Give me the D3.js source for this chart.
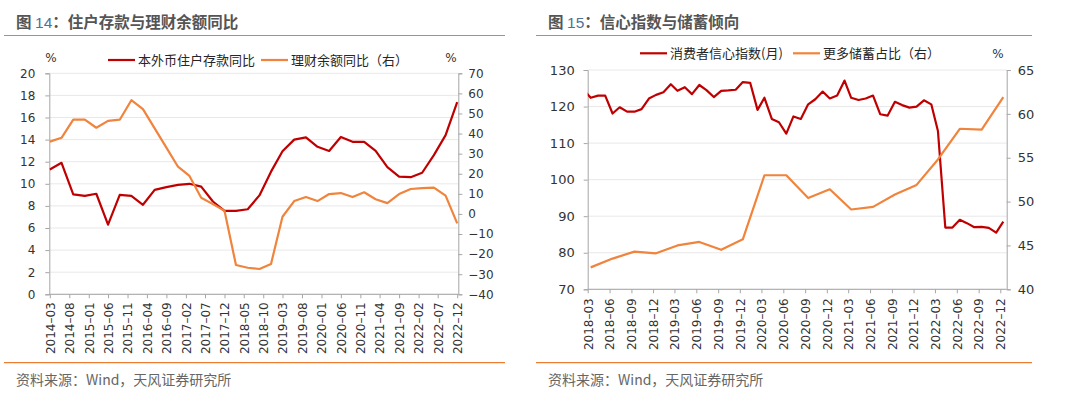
<!DOCTYPE html>
<html>
<head>
<meta charset="utf-8">
<script src="https://cdn.jsdelivr.net/npm/d3@7"></script>
<style>
  body { margin: 0; background: #fff; }
  svg { display: block; }
</style>
</head>
<body>
<svg id="chart" width="1065" height="399"></svg>
<script>
// ---- 图14 data: quarterly, 2014-03 .. 2022-12 ----
const depositStart = '2014-03';
const depositEnd = '2022-12';
const depositYoY = [11.3, 11.9, 9.05, 8.9, 9.1, 6.3, 9.0, 8.9, 8.1, 9.45, 9.7, 9.9, 10.0, 9.75, 8.4, 7.55,
  7.55, 7.7, 8.95, 11.1, 12.95, 14.0, 14.2, 13.35, 12.97, 14.24, 13.8, 13.8, 12.97, 11.5, 10.65, 10.6,
  11.0, 12.6, 14.4, 17.4];
const wealthYoY = [36.0, 37.9, 46.9, 46.9, 42.9, 46.3, 46.9, 56.6, 52.2, 42.6, 33.0, 23.5, 18.9, 8.1, 4.9, 1.6,
  -25.4, -26.8, -27.4, -24.9, -1.4, 6.4, 8.4, 6.4, 9.9, 10.4, 8.4, 10.8, 7.3, 5.4, 9.9, 12.4,
  12.8, 13.1, 9.1, -4.7];
const depositTicks = ['2014-03', '2014-08', '2015-01', '2015-06', '2015-11', '2016-04', '2016-09', '2017-02',
  '2017-07', '2017-12', '2018-05', '2018-10', '2019-03', '2019-08', '2020-01', '2020-06', '2020-11',
  '2021-04', '2021-09', '2022-02', '2022-07', '2022-12'];
const depositLeftTicks = [0, 2, 4, 6, 8, 10, 12, 14, 16, 18, 20];
const depositRightTicks = [-40, -30, -20, -10, 0, 10, 20, 30, 40, 50, 60, 70];

// ---- 图15 data: confidence monthly 2018-02 .. 2022-12, savings quarterly 2018-03 .. 2022-12 ----
const confStart = '2018-02';
const confEnd = '2022-12';
const confidence = [124.4, 122.4, 123.0, 123.0, 118.1, 119.8, 118.6, 118.6, 119.3, 122.2, 123.2, 123.9,
  126.1, 124.3, 125.3, 123.4, 125.9, 124.5, 122.6, 124.3, 124.4, 124.6, 126.7, 126.5, 119.1, 122.4,
  116.6, 115.7, 112.6, 117.3, 116.6, 120.6, 122.0, 124.1, 122.2, 123.0, 127.1, 122.4, 121.8, 122.2,
  123.0, 117.9, 117.5, 121.3, 120.4, 119.7, 120.0, 121.7, 120.6, 113.3, 86.9, 86.9, 89.0, 88.1,
  87.0, 87.1, 86.8, 85.5, 88.5];
const savingsStart = '2018-03';
const savingsShare = [42.5, 43.5, 44.3, 44.1, 45.0, 45.4, 44.5, 45.7, 53.0, 53.0, 50.4, 51.4, 49.1, 49.4,
  50.8, 51.9, 54.8, 58.3, 58.2, 61.9];
const confTicks = ['2018-03', '2018-06', '2018-09', '2018-12', '2019-03', '2019-06', '2019-09', '2019-12',
  '2020-03', '2020-06', '2020-09', '2020-12', '2021-03', '2021-06', '2021-09', '2021-12', '2022-03',
  '2022-06', '2022-09', '2022-12'];
const confLeftTicks = [70, 80, 90, 100, 110, 120, 130];
const confRightTicks = [40, 45, 50, 55, 60, 65];

const RED = '#c00000';
const ORANGE = '#f0843c';
const numFont = '"DejaVu Sans", sans-serif';
const cjkFont = '"Noto Sans CJK SC", sans-serif';

const parse = d3.timeParse('%Y-%m');
const labelFmt = d3.timeFormat('%Y–%m');
const svg = d3.select('#chart');

function monthly (start, every, n) {
  return d3.range(n).map(i => d3.timeMonth.offset(parse(start), i * every));
}

function header (x, x0, x1, num, title) {
  const t = svg.append('text')
    .attr('x', x).attr('y', 27.5)
    .style('font-family', cjkFont).style('font-size', '15.5px')
    .style('font-weight', 'bold').style('fill', '#555');
  t.append('tspan').text('图 ');
  t.append('tspan').text(num)
    .style('font-family', '"Liberation Sans", sans-serif').style('font-weight', 'normal')
    .style('fill', '#4d7298');
  t.append('tspan').text('：' + title);

  svg.append('line').attr('x1', x0).attr('x2', x1).attr('y1', 35.5).attr('y2', 35.5)
    .attr('stroke', '#ed7d31').attr('stroke-width', 1.2);
  svg.append('line').attr('x1', x0).attr('x2', x1).attr('y1', 362.7).attr('y2', 362.7)
    .attr('stroke', '#ed7d31').attr('stroke-width', 1.2);
  svg.append('text').attr('x', x).attr('y', 385)
    .style('font-family', cjkFont).style('font-size', '14px').style('fill', '#666')
    .text('资料来源：Wind，天风证券研究所');
}

function legend (items, y) {
  items.forEach(it => {
    svg.append('line').attr('x1', it.x).attr('x2', it.x + 27).attr('y1', y).attr('y2', y)
      .attr('stroke', it.color).attr('stroke-width', 2.2);
    svg.append('text').attr('x', it.x + 30).attr('y', y + 4.6)
      .style('font-family', cjkFont).style('font-size', '13px').style('fill', '#262626')
      .text(it.label);
  });
}

function styleAxis (g, fontSize) {
  g.select('.domain').attr('stroke', '#a6a6a6');
  g.selectAll('.tick line').attr('stroke', '#a6a6a6');
  g.selectAll('text').style('font-family', numFont).style('font-size', fontSize).style('fill', '#333');
}

function panel (o) {
  const g = svg.append('g');

  // gridlines
  g.selectAll('.grid').data(o.leftTicks).enter().append('line')
    .attr('x1', o.frame[0]).attr('x2', o.frame[1])
    .attr('y1', d => o.yL(d)).attr('y2', d => o.yL(d))
    .attr('stroke', '#e8e8e8').attr('stroke-width', 1);

  // axes
  const ax = g.append('g').attr('transform', `translate(${o.frame[0]},0)`)
    .call(d3.axisLeft(o.yL).tickValues(o.leftTicks).tickSize(4).tickPadding(o.padL).tickFormat(d3.format('d')));
  styleAxis(ax, o.fsY);
  const ay = g.append('g').attr('transform', `translate(${o.frame[1]},0)`)
    .call(d3.axisRight(o.yR).tickValues(o.rightTicks).tickSize(4).tickPadding(o.padR));
  styleAxis(ay, o.fsY);
  const xb = g.append('g').attr('transform', `translate(0,${o.bottom})`)
    .call(d3.axisBottom(o.xTick).tickValues(o.ticks.map(parse)).tickSize(4).tickFormat(labelFmt));
  xb.select('.domain').attr('d', `M${o.frame[0]},0H${o.frame[1]}`);
  styleAxis(xb, '12px');
  xb.selectAll('text')
    .attr('transform', 'rotate(-90)')
    .attr('x', -o.padX).attr('y', 0).attr('dy', '0.36em')
    .style('text-anchor', 'end');

  // clip for series that start before the plotted range
  const clipId = 'clip' + o.frame[0];
  svg.append('clipPath').attr('id', clipId).append('rect')
    .attr('x', o.frame[0]).attr('y', o.top - 5)
    .attr('width', o.frame[1] - o.frame[0]).attr('height', o.bottom - o.top + 10);

  o.series.forEach(s => {
    const line = d3.line().x(d => o.x(d[0])).y(d => s.y(d[1]));
    g.append('path')
      .datum(d3.zip(s.dates, s.values))
      .attr('d', line)
      .attr('fill', 'none').attr('stroke', s.color).attr('stroke-width', 2.2)
      .attr('stroke-linejoin', 'round')
      .attr('clip-path', `url(#${clipId})`);
  });

  // unit labels
  o.units.forEach(u => {
    svg.append('text').attr('x', u).attr('y', o.unitY).attr('text-anchor', 'middle')
      .style('font-family', numFont).style('font-size', '12px').style('fill', '#333').text('%');
  });
}

// ---- 图14 ----
header(16, 4, 505, '14', '住户存款与理财余额同比');
const depDates = monthly(depositStart, 3, depositYoY.length);
const xDep = d3.scaleTime().domain([parse(depositStart), parse(depositEnd)]).range([49.8, 457.2]);
const yDepL = d3.scaleLinear().domain([0, 20]).range([294.3, 73.3]);
const yDepR = d3.scaleLinear().domain([-40, 70]).range([294.3, 73.3]);
panel({
  frame: [49.3, 458.3], top: 73.3, bottom: 294.3,
  x: xDep, xTick: xDep, yL: yDepL, yR: yDepR,
  leftTicks: depositLeftTicks, rightTicks: depositRightTicks, ticks: depositTicks,
  padL: 10, padR: 6, padX: 8, fsY: '12px',
  series: [
    { dates: depDates, values: depositYoY, y: yDepL, color: RED },
    { dates: depDates, values: wealthYoY, y: yDepR, color: ORANGE }
  ],
  units: [51, 451], unitY: 62
});
legend([
  { x: 108, color: RED, label: '本外币住户存款同比' },
  { x: 261, color: ORANGE, label: '理财余额同比（右）' }
], 60);

// ---- 图15 ----
header(548, 536, 1032, '15', '信心指数与储蓄倾向');
const confDates = monthly(confStart, 1, confidence.length);
const savDates = monthly(savingsStart, 3, savingsShare.length);
const xConf = d3.scaleTime().domain([parse(savingsStart), parse(confEnd)]).range([590.7, 1003.3]);
// category labels sit slightly left of the month points
const xConfTick = xConf.copy().range(xConf.range().map(v => v - 3));
const yConfL = d3.scaleLinear().domain([70, 130]).range([289.3, 70]);
const yConfR = d3.scaleLinear().domain([40, 65]).range([289.3, 70]);
panel({
  frame: [587.7, 1006.7], top: 70, bottom: 289.3,
  x: xConf, xTick: xConfTick, yL: yConfL, yR: yConfR,
  leftTicks: confLeftTicks, rightTicks: confRightTicks, ticks: confTicks,
  padL: 9, padR: 7, padX: 9, fsY: '13px',
  series: [
    { dates: confDates, values: confidence, y: yConfL, color: RED },
    { dates: savDates, values: savingsShare, y: yConfR, color: ORANGE }
  ],
  units: [998], unitY: 58
});
legend([
  { x: 640, color: RED, label: '消费者信心指数(月)' },
  { x: 793, color: ORANGE, label: '更多储蓄占比（右）' }
], 53.3);
</script>
</body>
</html>
